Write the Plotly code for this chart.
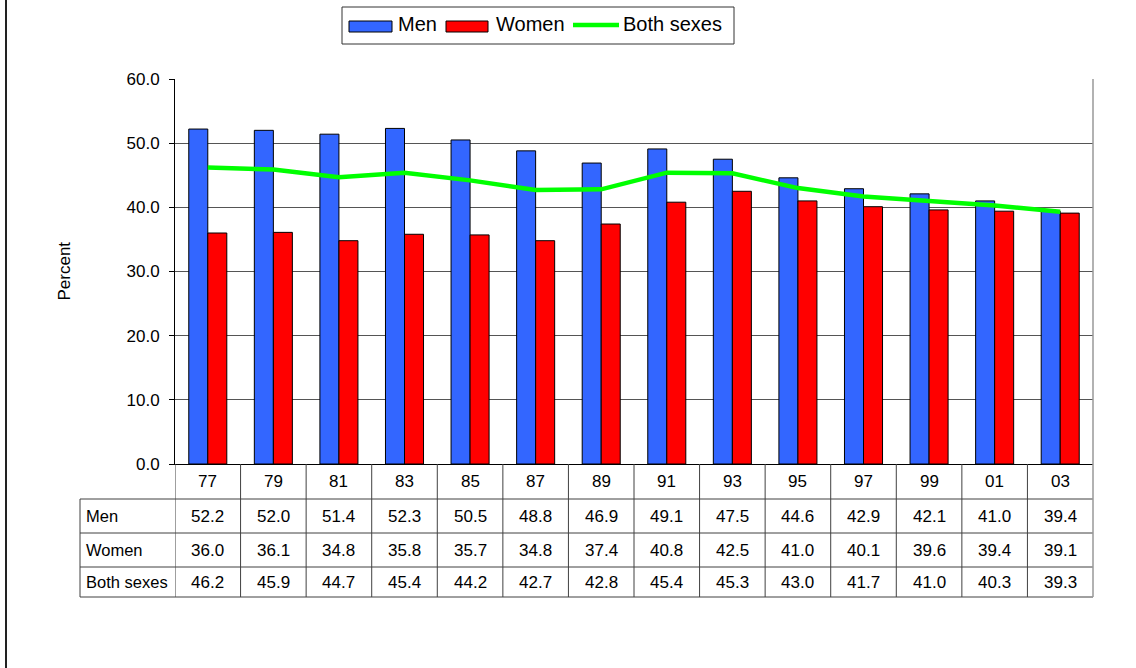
import plotly.graph_objects as go

# ---- data ----
years = ["77", "79", "81", "83", "85", "87", "89", "91", "93", "95", "97", "99", "01", "03"]
men = [52.2, 52.0, 51.4, 52.3, 50.5, 48.8, 46.9, 49.1, 47.5, 44.6, 42.9, 42.1, 41.0, 39.4]
women = [36.0, 36.1, 34.8, 35.8, 35.7, 34.8, 37.4, 40.8, 42.5, 41.0, 40.1, 39.6, 39.4, 39.1]
both = [46.2, 45.9, 44.7, 45.4, 44.2, 42.7, 42.8, 45.4, 45.3, 43.0, 41.7, 41.0, 40.3, 39.3]
row_names = ["Men", "Women", "Both sexes"]

W, H = 1136, 668
L, R, T, B = 175, 1093, 79, 464          # plot area in pixels
FONT = "Liberation Sans, Arial, sans-serif"
BLUE, RED, GREEN = "#3366FF", "#FF0000", "#00FF00"


def px(x):
    return (x - L) / (R - L)


def py(y):
    return (B - y) / (B - T)


idx = list(range(len(years)))
n = len(years)

fig = go.Figure()
fig.add_trace(go.Bar(x=idx, y=men, name="Men", marker=dict(color=BLUE, line=dict(color="black", width=1))))
fig.add_trace(go.Bar(x=idx, y=women, name="Women", marker=dict(color=RED, line=dict(color="black", width=1))))
fig.add_trace(go.Scatter(x=idx, y=both, name="Both sexes", mode="lines",
                         line=dict(color=GREEN, width=4.5)))

shapes = []
annotations = []


def label(x, y, text, size, xref="paper", xanchor="center", **kw):
    annotations.append(dict(x=x, y=y, xref=xref, yref="paper", text=text, showarrow=False,
                            xanchor=xanchor, yanchor="middle",
                            font=dict(size=size, color="black", family=FONT), **kw))


# ---- data table under the axis ----
row_edges = [464, 499, 533, 567, 597]
grid_col = "#404040"
# horizontal rules of the table
for y in row_edges[1:]:
    shapes.append(dict(type="line", xref="paper", yref="paper", x0=px(80), x1=px(R),
                       y0=py(y), y1=py(y), line=dict(color=grid_col, width=1)))
# label column left border
shapes.append(dict(type="line", xref="paper", yref="paper", x0=px(80), x1=px(80),
                   y0=py(row_edges[1]), y1=py(row_edges[-1]), line=dict(color=grid_col, width=1)))
# column separators
for k in range(n):
    shapes.append(dict(type="line", xref="x", yref="paper", x0=k - 0.5, x1=k - 0.5,
                       y0=py(row_edges[0]), y1=py(row_edges[-1]), line=dict(color=grid_col, width=1)))
# right border of plot area + table
shapes.append(dict(type="line", xref="paper", yref="paper", x0=1, x1=1,
                   y0=1, y1=py(row_edges[-1]), line=dict(color="#999999", width=1.5)))

# year labels
for i, yr in enumerate(years):
    label(i, py((row_edges[0] + row_edges[1]) / 2), yr, 17, xref="x")
# table values
for r, (name, vals) in enumerate(zip(row_names, [men, women, both])):
    yc = py((row_edges[r + 1] + row_edges[r + 2]) / 2)
    label(px(84), yc, name, 16.5, xanchor="left")
    for i, v in enumerate(vals):
        label(i, yc, f"{v:.1f}", 17, xref="x")

# ---- legend box ----
shapes.append(dict(type="rect", xref="paper", yref="paper", x0=px(342), x1=px(734),
                   y0=py(7), y1=py(44), line=dict(color="#333333", width=1), fillcolor="white"))
shapes.append(dict(type="rect", xref="paper", yref="paper", x0=px(349), x1=px(392),
                   y0=py(21), y1=py(32), line=dict(color="black", width=1), fillcolor=BLUE))
shapes.append(dict(type="rect", xref="paper", yref="paper", x0=px(446), x1=px(488),
                   y0=py(21), y1=py(32), line=dict(color="black", width=1), fillcolor=RED))
shapes.append(dict(type="line", xref="paper", yref="paper", x0=px(573), x1=px(619),
                   y0=py(25), y1=py(25), line=dict(color=GREEN, width=4.5)))
for xt, txt in [(396, "Men"), (494, "Women"), (621, "Both sexes")]:
    label(px(xt), py(24.5), txt, 20, xanchor="left")

# outer left frame line
shapes.append(dict(type="line", xref="paper", yref="paper", x0=px(6), x1=px(6),
                   y0=py(0), y1=py(H), line=dict(color="#222222", width=2)))

# axis title
label(px(64), 0.5, "Percent", 17, textangle=-90)

fig.update_layout(
    width=W, height=H,
    margin=dict(l=L, r=W - R, t=T, b=H - B, pad=0),
    paper_bgcolor="white", plot_bgcolor="white",
    barmode="group", bargap=0.42, bargroupgap=0,
    showlegend=False,
    font=dict(family=FONT, color="black"),
    shapes=shapes, annotations=annotations,
    xaxis=dict(range=[-0.5, n - 0.5], showticklabels=False, ticks="", showgrid=False,
               showline=True, linecolor="black", linewidth=1, zeroline=False, fixedrange=True),
    yaxis=dict(range=[0, 60], dtick=10, tickformat=".1f", ticks="outside", ticklen=5,
               tickcolor="black", showline=True, linecolor="black", linewidth=1,
               showgrid=True, gridcolor="#555555", gridwidth=1, zeroline=False,
               ticklabelstandoff=6,
               tickfont=dict(size=17, color="black", family=FONT), fixedrange=True),
)

fig.write_html("out.html")
